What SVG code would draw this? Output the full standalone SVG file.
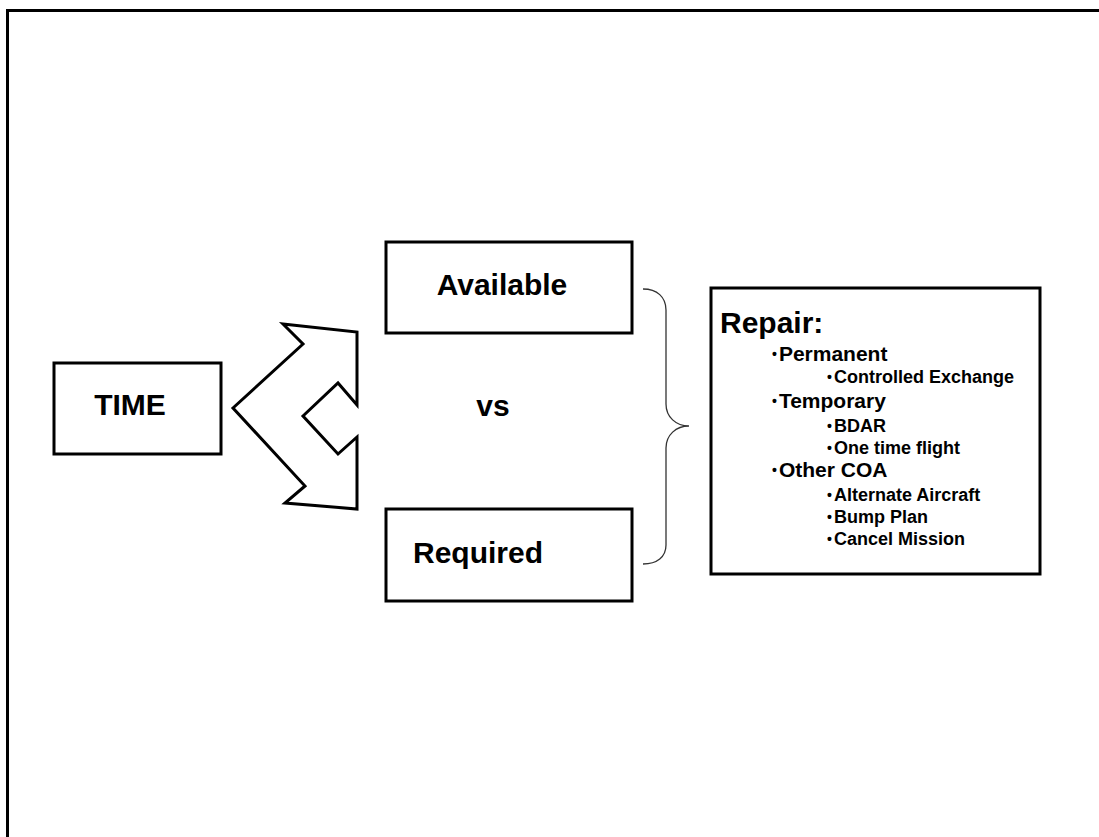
<svg xmlns="http://www.w3.org/2000/svg" width="1099" height="837" viewBox="0 0 1099 837">
<style>
.box{fill:#fff;stroke:#000;stroke-width:3}
.lbl{font-family:"Liberation Sans",Arial,sans-serif;font-weight:bold;fill:#000}
.big{font-size:30px}
.l1{font-size:21px}
.l2{font-size:18px}
.b{font-size:14px}
</style>
<rect width="1099" height="837" fill="#fff"/>
<path d="M7.5,837 V10.5 H1099" fill="none" stroke="#000" stroke-width="3"/>
<g id="time">
<rect class="box" x="54" y="363" width="167" height="91"/>
<text class="lbl big" x="130" y="415" text-anchor="middle">TIME</text>
</g>
<g id="chevron">
<polygon class="box" stroke-linejoin="miter" points="283,324 357,332 357,405 338,383 303,416 338,454 357,437 357,509 285,503 305,486 233,408 303,344"/>
</g>
<g id="available">
<rect class="box" x="386" y="242" width="246" height="91"/>
<text class="lbl big" x="502" y="295" text-anchor="middle">Available</text>
</g>
<g id="vs">
<text class="lbl big" x="493" y="416" text-anchor="middle">vs</text>
</g>
<g id="required">
<rect class="box" x="386" y="509" width="246" height="92"/>
<text class="lbl big" x="413" y="563">Required</text>
</g>
<g id="connectors">
<path d="M643,289 C657,289 666,297 666,310 V404 C666,417 676,426 689,426 C676,426 666,435 666,448 V545 C666,557 657,564 643,564" fill="none" stroke="#333" stroke-width="1.3"/>
</g>
<g id="repair">
<rect class="box" x="711" y="288" width="329" height="286"/>
<text class="lbl big" x="720" y="333">Repair:</text>
<text class="lbl l1" x="772" y="361"><tspan class="b" dy="-2">•</tspan><tspan dy="2" dx="2">Permanent</tspan></text>
<text class="lbl l2" x="827" y="383"><tspan class="b" dy="-1">•</tspan><tspan dy="1" dx="2">Controlled Exchange</tspan></text>
<text class="lbl l1" x="772" y="408"><tspan class="b" dy="-2">•</tspan><tspan dy="2" dx="2">Temporary</tspan></text>
<text class="lbl l2" x="827" y="432"><tspan class="b" dy="-1">•</tspan><tspan dy="1" dx="2">BDAR</tspan></text>
<text class="lbl l2" x="827" y="454"><tspan class="b" dy="-1">•</tspan><tspan dy="1" dx="2">One time flight</tspan></text>
<text class="lbl l1" x="772" y="477"><tspan class="b" dy="-2">•</tspan><tspan dy="2" dx="2">Other COA</tspan></text>
<text class="lbl l2" x="827" y="501"><tspan class="b" dy="-1">•</tspan><tspan dy="1" dx="2">Alternate Aircraft</tspan></text>
<text class="lbl l2" x="827" y="523"><tspan class="b" dy="-1">•</tspan><tspan dy="1" dx="2">Bump Plan</tspan></text>
<text class="lbl l2" x="827" y="545"><tspan class="b" dy="-1">•</tspan><tspan dy="1" dx="2">Cancel Mission</tspan></text>
</g>
</svg>
